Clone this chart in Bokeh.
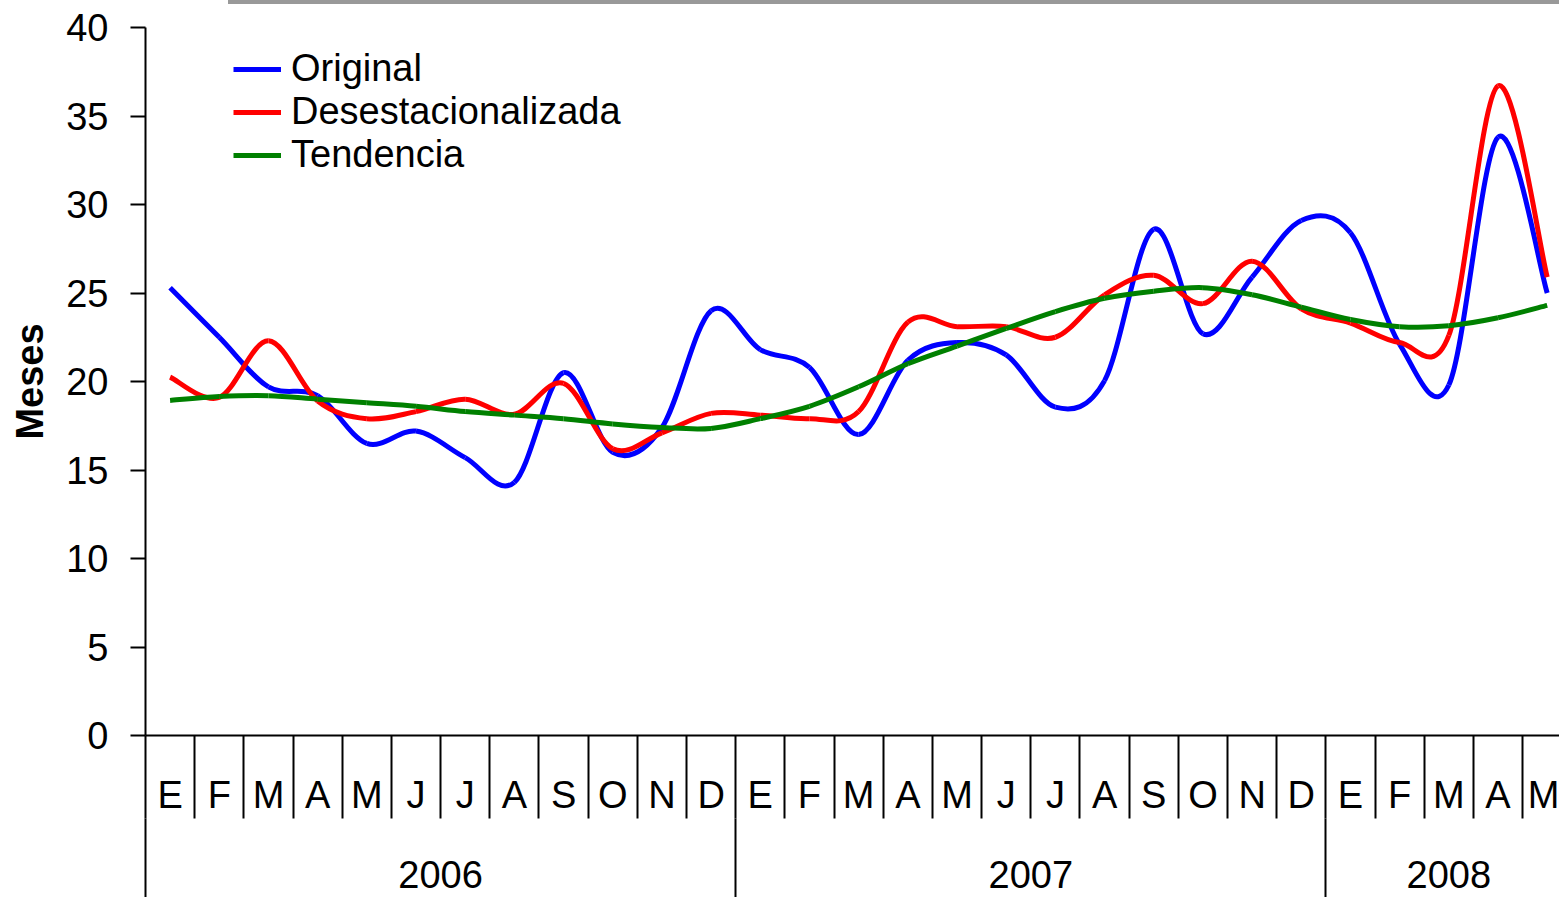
from bokeh.plotting import figure
from bokeh.layouts import column
from bokeh.models import (Range1d, LinearAxis, FixedTicker, Legend, LegendItem,
                          ColumnDataSource, Div)
from bokeh.embed import file_html
from bokeh.resources import INLINE

# ---------------- data ----------------
months = ["E", "F", "M", "A", "M", "J", "J", "A", "S", "O", "N", "D",
          "E", "F", "M", "A", "M", "J", "J", "A", "S", "O", "N", "D",
          "E", "F", "M", "A", "M"]
years = ["2006", "2007", "2008"]
year_counts = [12, 12, 5]

original = [25.3, 22.5, 19.7, 19.2, 16.5, 17.2, 15.7, 14.3, 20.5, 16.0, 17.4, 24.0,
            21.8, 20.8, 17.0, 21.2, 22.2, 21.5, 18.55, 20.05, 28.6, 22.7, 25.9, 29.1,
            28.4, 22.1, 19.8, 33.8, 25.0]
desestacionalizada = [20.25, 19.1, 22.3, 18.9, 17.9, 18.3, 19.0, 18.15, 19.9, 16.2, 17.1, 18.2,
                      18.1, 17.9, 18.3, 23.35, 23.1, 23.1, 22.5, 24.9, 26.0, 24.4, 26.8, 24.1,
                      23.3, 22.2, 22.6, 36.7, 25.9]
tendencia = [18.93, 19.15, 19.2, 19.0, 18.8, 18.6, 18.3, 18.1, 17.9, 17.6, 17.4, 17.35,
             17.9, 18.6, 19.7, 21.0, 22.0, 23.0, 23.95, 24.7, 25.1, 25.3, 24.9, 24.2,
             23.5, 23.1, 23.15, 23.6, 24.3]

series = [("Original", original, "#0000FF"),
          ("Desestacionalizada", desestacionalizada, "#FF0000"),
          ("Tendencia", tendencia, "#008000")]

FONT = "Liberation Sans"
FS = "38px"


def bezier_source(xs, ys):
    """Smooth (Catmull-Rom style) bezier control points through the data points."""
    n = len(xs)
    d = dict(x0=[], y0=[], x1=[], y1=[], cx0=[], cy0=[], cx1=[], cy1=[])
    for i in range(n - 1):
        a = i - 1 if i > 0 else i
        b = i + 2 if i + 2 < n else i + 1
        d["x0"].append(xs[i]); d["y0"].append(ys[i])
        d["x1"].append(xs[i + 1]); d["y1"].append(ys[i + 1])
        d["cx0"].append(xs[i] + (xs[i + 1] - xs[a]) / 6.0)
        d["cy0"].append(ys[i] + (ys[i + 1] - ys[a]) / 6.0)
        d["cx1"].append(xs[i + 1] - (xs[b] - xs[i]) / 6.0)
        d["cy1"].append(ys[i + 1] - (ys[b] - ys[i]) / 6.0)
    return ColumnDataSource(d)


n = len(months)
xs = list(range(n))

p = figure(width=1559, height=893,
           x_range=Range1d(-0.5, 28.25), y_range=Range1d(0, 40),
           x_axis_type=None, y_axis_type=None,
           output_backend="svg", toolbar_location=None,
           min_border_left=145, min_border_right=0,
           min_border_top=23, min_border_bottom=162)
p.outline_line_color = None
p.background_fill_color = "white"
p.border_fill_color = "white"

# y axis
yax = LinearAxis(ticker=FixedTicker(ticks=list(range(0, 41, 5))),
                 axis_label="Meses",
                 axis_label_text_font=FONT, axis_label_text_font_size=FS,
                 axis_label_text_font_style="bold", axis_label_text_color="black",
                 axis_label_standoff=12,
                 major_label_text_font=FONT, major_label_text_font_size=FS,
                 major_label_text_color="black", major_label_standoff=22,
                 major_tick_out=15, major_tick_in=0, minor_tick_out=0, minor_tick_in=0,
                 axis_line_color="black", axis_line_width=2,
                 major_tick_line_color="black", major_tick_line_width=2)
p.add_layout(yax, "left")

# month axis (separators = minor ticks)
month_ticker = FixedTicker(ticks=xs, minor_ticks=[i - 0.5 for i in range(n + 1)])
max_ = LinearAxis(ticker=month_ticker,
                  major_label_overrides={i: m for i, m in enumerate(months)},
                  major_label_text_font=FONT, major_label_text_font_size=FS,
                  major_label_text_color="black", major_label_standoff=-45,
                  major_tick_out=0, major_tick_in=0,
                  minor_tick_out=83, minor_tick_in=0,
                  minor_tick_line_color="black", minor_tick_line_width=2,
                  axis_line_color="black", axis_line_width=2)
p.add_layout(max_, "below")

# year axis (on a doubled range so that tick positions are integers)
p.extra_x_ranges = {"years": Range1d(-1, 56.5)}
starts = []
s = 0
for c in year_counts:
    starts.append(s)
    s += c
year_centers = [2 * st + (c - 1) for st, c in zip(starts, year_counts)]
year_bounds = [2 * st - 1 for st in starts]
yr_ticker = FixedTicker(ticks=year_centers, minor_ticks=year_bounds)
yax2 = LinearAxis(x_range_name="years", ticker=yr_ticker,
                  major_label_overrides={c: y for c, y in zip(year_centers, years)},
                  major_label_text_font=FONT, major_label_text_font_size=FS,
                  major_label_text_color="black", major_label_standoff=-40,
                  major_tick_out=0, major_tick_in=0,
                  minor_tick_out=82, minor_tick_in=0,
                  minor_tick_line_color="black", minor_tick_line_width=2,
                  axis_line_color=None)
p.add_layout(yax2, "below")

# series
items = []
for name, vals, color in series:
    src = bezier_source(xs, vals)
    p.bezier(x0="x0", y0="y0", x1="x1", y1="y1", cx0="cx0", cy0="cy0",
             cx1="cx1", cy1="cy1", source=src, line_color=color, line_width=5)
    # one-point line: draws nothing in the plot, gives the legend its line sample
    proxy = p.line(x=[xs[0]], y=[vals[0]], line_color=color, line_width=5)
    items.append(LegendItem(label=name, renderers=[proxy]))

legend = Legend(items=items, location=(88, 559),
                glyph_width=48, glyph_height=40, label_height=40, spacing=0,
                padding=0, margin=0, label_standoff=10,
                label_text_font=FONT, label_text_font_size=FS, label_text_color="black",
                border_line_color=None, background_fill_alpha=0)
p.add_layout(legend)

bar = Div(text="", width=1331, height=4, margin=(0, 0, 0, 228),
          styles={"background-color": "#999999"})

layout = column(bar, p, spacing=0)
open("out.html", "w").write(file_html(layout, INLINE))
